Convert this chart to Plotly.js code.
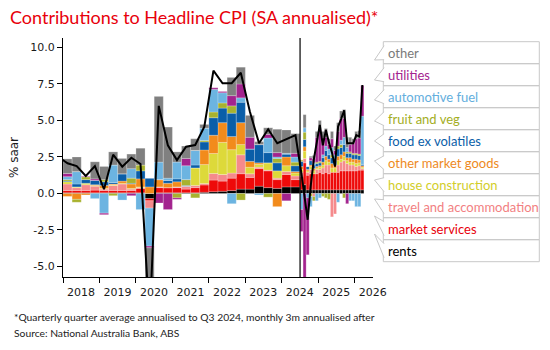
<!DOCTYPE html>
<html><head><meta charset="utf-8">
<script src="https://cdn.plot.ly/plotly-3.0.1.min.js"></script>
<style>html,body{margin:0;padding:0;background:#fff}#chart{width:550px;height:350px}</style>
</head><body><div id="chart"></div>
<script>
// ---------- DATA ----------
const quarters = ['2018Q1','2018Q2','2018Q3','2018Q4','2019Q1','2019Q2','2019Q3','2019Q4',
  '2020Q1','2020Q2','2020Q3','2020Q4','2021Q1','2021Q2','2021Q3','2021Q4',
  '2022Q1','2022Q2','2022Q3','2022Q4','2023Q1','2023Q2','2023Q3','2023Q4','2024Q1','2024Q2'];
const months = ['2024-07','2024-08','2024-09','2024-10','2024-11','2024-12',
  '2025-01','2025-02','2025-03','2025-04','2025-05','2025-06','2025-07','2025-08','2025-09',
  '2025-10','2025-11','2025-12','2026-01','2026-02','2026-03'];
const periods = quarters.concat(months);

// contributions (ppt), 26 quarterly values then 21 monthly values
const rents = [0.05,0.05,0.05,0.05,0.05,0.05,0.05,0.05,0.05,-0.35,0.05,0.05,0.05,0.05,0.05,0.08,0.12,0.15,0.2,0.3,0.3,0.5,0.4,0.35,0.45,0.45,
  0.25,0.6,0.25,0.25,0.25,0.25,0.25,0.25,0.25,0.25,0.25,0.25,0.25,0.25,0.25,0.25,0.25,0.25,0.25,0.25,0.25];
const marketServices = [0.15,0.15,0.15,0.18,0.15,0.15,0.15,0.15,0.3,-0.15,0.35,0.35,0.35,0.25,0.35,0.5,0.8,0.7,0.85,1.05,0.8,1.2,1.15,0.6,0.85,0.5,
  0.9,1.5,1.0,1.1,1.1,1.1,1.2,1.1,1.2,1.1,1.2,1.2,1.2,1.3,1.3,1.3,1.3,1.3,1.3,1.35,1.35];
const travel = [0.45,0.2,0.4,0.27,0.1,0.35,0.45,0.1,0.05,-0.5,0.05,0,0.05,0.2,0.15,0.1,0.45,0.45,0.35,1.3,0.25,0.1,0.05,0.1,0.2,0.25,
  0.3,0.3,0.2,0.3,-0.2,0.3,0.2,0.4,0.5,0.6,-1.6,-1.4,0.5,0.6,0.7,0.5,0.4,0.4,0.3,0.3,0.1];
const houseConstruction = [0.15,0.05,0.1,0.05,0.05,0.05,0.05,0.05,0.05,0,0,0,0,0,1.2,1.3,1.37,2.2,1.6,0.7,0.45,0.2,0.5,0.5,0.4,0.2,
  0.2,0.5,0.1,0.2,0.2,0.1,0.15,0.2,0.3,0.2,0.3,0.3,0.3,0.2,0.3,0.2,0.2,0.2,0.2,0.2,0.1];
const otherMarketGoods = [-0.2,-0.4,-0.1,0.05,0.2,0.05,0.15,0.3,0.55,0.45,0.5,0.3,0.35,0,0,1.0,1.25,1.35,0.9,1.5,0.4,0.1,0,-0.9,0.6,0.1,
  0.2,0.3,0.1,0.1,0.15,0.1,0.1,0.2,0.3,0.2,0.3,0.2,0.3,0.3,0.3,0.2,0.3,0.2,0.3,0.2,0.1];
const foodExVolatiles = [0.05,0.2,0.25,0.3,0.25,0.1,0.5,0.05,0.55,0.6,0,0.2,0.2,0.05,0.2,0.55,1.2,1.0,1.6,1.4,0.85,1.25,0.7,0.55,0.2,0.4,
  0.35,0.5,0.2,0.3,0.25,0.2,0.2,0.3,0.4,0.3,0.4,0.3,0.5,0.5,0.5,0.3,0.3,0.3,0.3,0.3,0.1];
const fruitAndVeg = [0.1,-0.2,0.2,0,0.15,-0.15,0,0.35,0.4,0,0,0,-0.3,0.4,-0.3,0.1,0.39,0.35,0.5,-0.45,0,0,-0.25,0.3,0,0.25,
  0.1,0.5,0,-0.2,-0.3,0.1,0.1,-0.2,-0.3,-0.4,0.2,0.1,0.2,0.2,-0.3,0.1,0.1,0.1,0.1,0.1,0];
const automotiveFuel = [0.2,0.85,0,-0.35,-1.35,1.2,-0.45,0.65,-1.1,-2.6,1.2,0.15,1.15,0.95,1.0,0.85,1.55,0.7,-0.7,0.3,0,-0.1,1.0,0.1,0.05,0.35,
  -1.1,0.3,-0.3,-0.7,0.15,-0.5,-0.3,0.2,0.3,0.4,0.5,0.3,-0.6,0.3,0.5,0.3,-0.5,-0.5,-0.9,-0.9,3.3];
const utilities = [0.22,0,0.05,0.1,-0.1,0,0,-0.15,0,-0.12,-0.65,-1.1,-0.1,0.5,0,0,0.12,0.1,0.7,0.95,0.8,0,0.25,0.3,-0.5,0.25,
  -1.5,-5.8,-3.9,0.2,0.3,1.7,2.2,1.2,0.6,0.3,0.6,0.3,1.0,1.5,1.3,-0.7,0.5,0.7,1.0,1.1,2.1];
const other = [1.0,1.0,0,1.17,0.9,0.9,1.05,1.0,1.15,-5.0,4.5,3.5,0.7,0.85,0.8,0.25,0,0,1.25,1.15,1.5,0.2,0.45,1.6,1.6,1.35,
  0,0.9,0,0.1,0.2,0.4,0.6,0.4,0.6,0.4,0.5,0.3,0.6,0.5,0.6,0.7,0.5,0.3,0.5,0.5,0];

// headline CPI line (% saar)
const headlinePeriods = ['2017Q4'].concat(periods);
const headline = [2.5,
  2.07,1.88,1.2,1.88,0.29,2.66,1.84,2.45,2.02,-8.8,6.0,3.3,2.29,3.2,3.32,4.58,8.41,7.55,7.55,8.27,5.6,3.44,4.4,3.44,3.7,4.0,
  1.3,-0.3,-1.8,0.5,2.3,3.5,4.7,3.3,4.35,3.5,2.8,1.84,4.58,5.1,5.7,3.44,3.44,3.44,4.0,3.9,7.43];

const seriesNames = ['rents','market services','travel and accommodation','house construction','other market goods',
  'food ex volatiles','fruit and veg','automotive fuel','utilities','other'];
const seriesValues = [rents,marketServices,travel,houseConstruction,otherMarketGoods,foodExVolatiles,fruitAndVeg,automotiveFuel,utilities,other];
const yearTicks = [2018,2019,2020,2021,2022,2023,2024,2025,2026];
const yTicks = [-5,-2.5,0,2.5,5,7.5,10];
const yTickText = ['-5.0','-2.5','0.0','2.5','5.0','7.5','10.0'];

// ---------- STYLE ----------
const colors = ['#000000','#EE0A0A','#F58A8C','#DDD93A','#F28B1C','#0A5EA8','#A8B22E','#6CB4E1','#A3238E','#808080'];
const textColors = ['#000000','#E8000B','#F27F82','#D2CE2A','#EE8A1E','#0A5EA8','#A3AE24','#63AEDD','#A3238E','#7a7a7a'];

function toX(p){
  if (p.indexOf('Q') > 0){ const y=+p.slice(0,4), q=+p.slice(5); return y+(q-1)/4+0.125; }
  const y=+p.slice(0,4), m=+p.slice(5); return y+(m-1)/12+1/24;
}
function toW(p){ return p.indexOf('Q')>0 ? 0.25 : 1/12; }

const xs = periods.map(toX), ws = periods.map(toW);
const traces = seriesValues.map((v,i)=>({
  type:'bar', name:seriesNames[i], x:xs, y:v, width:ws,
  marker:{color:colors[i], line:{color:'rgba(255,255,255,0.55)', width:0.4}},
  hoverinfo:'skip'
}));
traces.push({type:'scatter', mode:'lines', x:headlinePeriods.map(toX), y:headline,
  line:{color:'#000', width:2}, hoverinfo:'skip', name:'headline'});

// ---------- LAYOUT ----------
const W=550,H=350,L=63,R=177,T=38,B=73;
const pw=W-L-R, ph=H-T-B;
const px=v=>(v-L)/pw, py=v=>(H-B-v)/ph;

const shapes=[{type:'line', xref:'x', yref:'paper', x0:2024.5, x1:2024.5, y0:0, y1:1, line:{color:'#000', width:1.2}}];
const annotations=[];
const boxL=383.3, boxR=539.3, rowTop0=41.7, rowH=22;
const tips=[60,80,100,121,141,161,180,199,216,234];
const order=[9,8,7,6,5,4,3,2,1,0]; // legend rows top to bottom
order.forEach((si,r)=>{
  const top=rowTop0+r*rowH, bot=top+rowH;
  shapes.push({type:'rect', xref:'paper', yref:'paper', x0:px(boxL), x1:px(boxR), y0:py(bot), y1:py(top),
    line:{color:'#c8c8c8', width:1}, fillcolor:'rgba(0,0,0,0)'});
});
order.forEach((si,r)=>{
  const top=rowTop0+r*rowH, c=top+rowH/2;
  const y1=c-7, y2=c+7;
  shapes.push({type:'path', xref:'paper', yref:'paper',
    path:`M ${px(boxL+0.8)},${py(y1)} L ${px(374.5)},${py(tips[r])} L ${px(boxL+0.8)},${py(y2)}`,
    line:{color:'#c8c8c8', width:1}, fillcolor:'#ffffff'});
  annotations.push({xref:'paper', yref:'paper', x:px(386), y:py(c+0.5), xanchor:'left', yanchor:'middle',
    text:seriesNames[si], showarrow:false, font:{family:'Lato', size:13, color:textColors[si]}});
});
annotations.push({xref:'paper', yref:'paper', x:px(12), y:py(317), xanchor:'left', yanchor:'middle', showarrow:false,
  text:'*Quarterly quarter average annualised to Q3 2024, monthly 3m annualised after', font:{family:'Lato', size:10.3, color:'#222'}});
annotations.push({xref:'paper', yref:'paper', x:px(12), y:py(333), xanchor:'left', yanchor:'middle', showarrow:false,
  text:'Source: National Australia Bank, ABS', font:{family:'Lato', size:10.3, color:'#222'}});

const layout={
  width:W, height:H, margin:{l:L,r:R,t:T,b:B}, barmode:'relative', bargap:0, showlegend:false,
  paper_bgcolor:'#fff', plot_bgcolor:'#fff',
  font:{family:'DejaVu Sans', size:11, color:'#1a1a1a'},
  title:{text:'Contributions to Headline CPI (SA annualised)*', font:{family:'Lato', size:18, color:'#E8000B'},
    xref:'container', x:10/W, xanchor:'left', yref:'container', y:1-18/H, yanchor:'middle'},
  xaxis:{range:[2018,2026.5], tickvals:yearTicks, ticktext:yearTicks.map(String), ticks:'outside', ticklen:5,
    tickcolor:'#000', showline:true, linecolor:'#000', linewidth:1, showgrid:false, zeroline:false,
    ticklabelshift:18, tickfont:{family:'DejaVu Sans', size:11, color:'#1a1a1a'}},
  yaxis:{range:[-5.72,10.65], tickvals:yTicks, ticktext:yTickText, ticks:'outside', ticklen:5,
    tickcolor:'#000', showline:true, linecolor:'#000', linewidth:1, showgrid:false, zeroline:false,
    tickfont:{family:'DejaVu Sans', size:11, color:'#1a1a1a'},
    title:{text:'% saar', font:{family:'DejaVu Sans', size:12, color:'#1a1a1a'}, standoff:9}},
  shapes:shapes, annotations:annotations
};
Plotly.newPlot('chart', traces, layout, {displayModeBar:false, staticPlot:true});
</script></body></html>
